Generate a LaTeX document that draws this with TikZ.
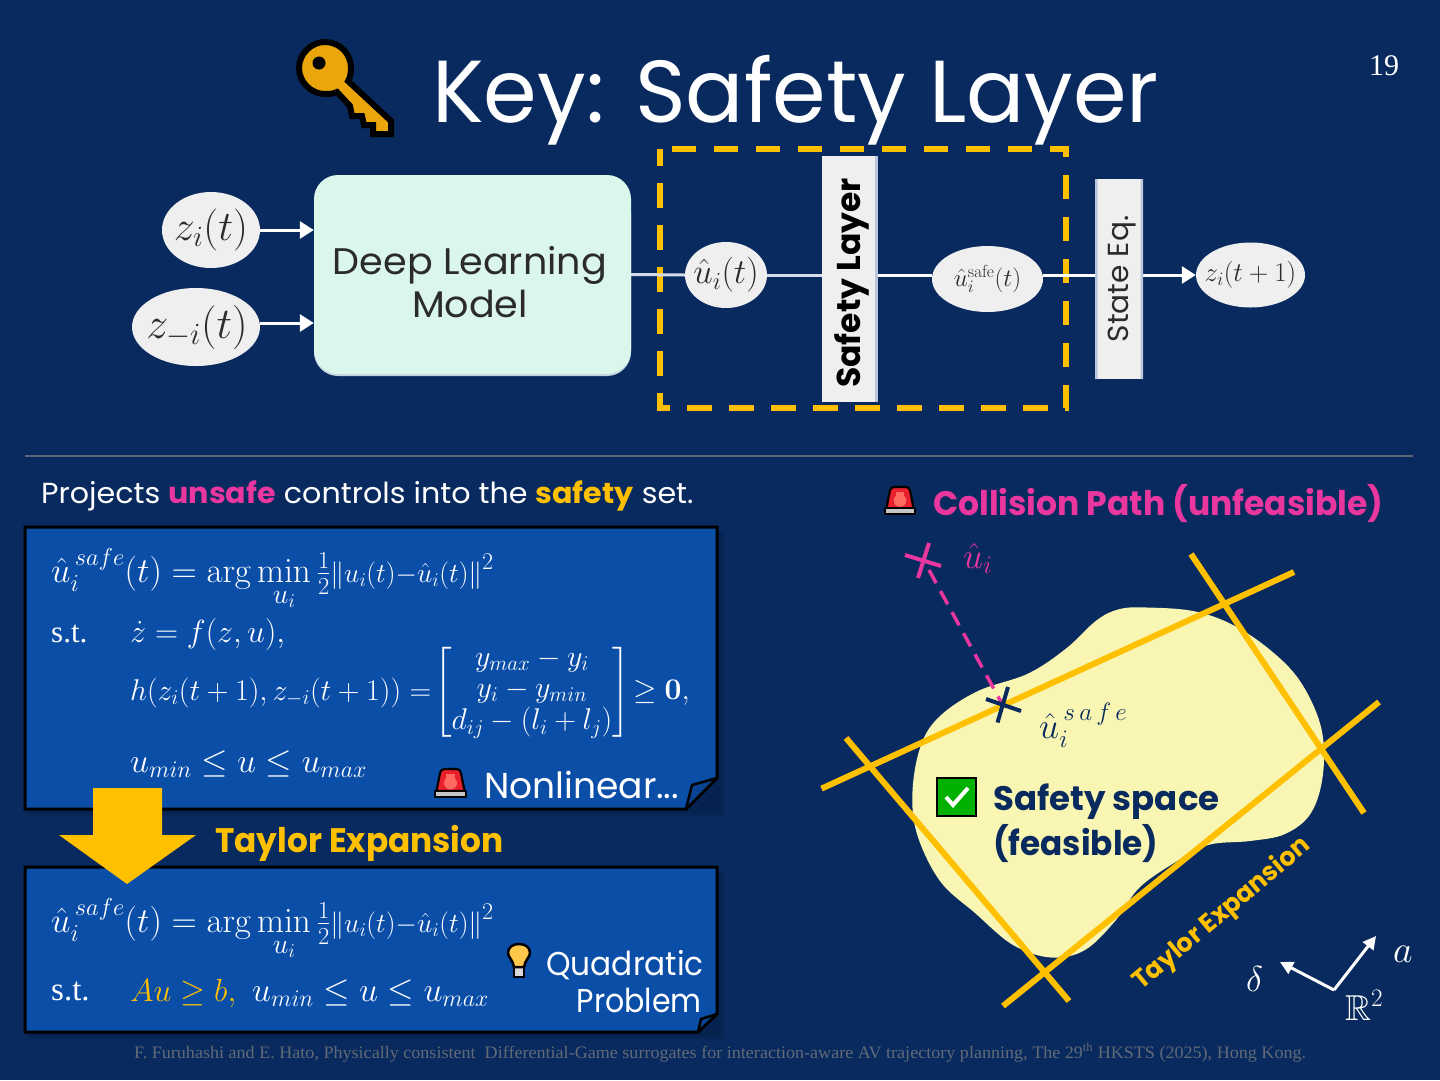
\RequirePackage{fix-cm}
\documentclass[tikz,border=0pt]{standalone}
\usepackage{amsmath,amssymb}
\usepackage[no-math]{fontspec}
\setmainfont{Poppins}
\newfontfamily\serifft{Liberation Serif}
\usetikzlibrary{arrows.meta,calc,shapes.geometric}
\definecolor{bgnavy}{HTML}{082A5E}
\definecolor{noteblue}{HTML}{0A4EA8}
\definecolor{gold}{HTML}{FFC000}
\definecolor{hotpink}{HTML}{E9379F}
\definecolor{paleyel}{HTML}{F9F5B2}
\definecolor{mint}{HTML}{DBF7EC}
\definecolor{edgeb}{HTML}{B9C5DA}
\definecolor{boxgrey}{HTML}{EFEFEF}
\definecolor{ink}{HTML}{2B2B2B}
\definecolor{keyor}{HTML}{EAA60A}
\definecolor{sirenred}{HTML}{E8202C}
\definecolor{sirenglow}{HTML}{FF6A60}
\definecolor{bulby}{HTML}{FFC84A}
\newcommand{\fsz}[1]{\fontsize{#1}{#1}\selectfont}
\newcommand{\xsc}[2]{\scalebox{#1}[1]{#2}}
\newcommand{\objline}{\hat u_i^{\,safe}(t)=\arg\min\limits_{\mbox{\fsz{28}$u_i$}}\tfrac12\mbox{\fsz{27.5}$\lVert u_i(t){-}\hat u_i(t)\rVert$}^{\mbox{\fsz{24}$2$}}}
\tikzset{
  ell/.style={ellipse,fill=boxgrey,draw=none,inner sep=0pt},
  elltxt/.style={inner sep=0pt,text=ink},
  flow/.style={white,line width=3pt},
  flowa/.style={white,line width=3pt,-{Triangle[length=14pt,width=17pt]}},
  bar/.style={fill=boxgrey,draw=none,inner sep=0pt,text=black},
  tx/.style={inner sep=0pt,anchor=base west,text=white},
  txr/.style={inner sep=0pt,anchor=base east,text=white},
  notebox/.style={fill=noteblue,draw=black,line width=3pt},
  fold/.style={fill=noteblue!70!bgnavy,draw=black,line width=2.5pt,line join=round},
  noteshadow/.style={fill=black,opacity=.08,draw=none},
  tanline/.style={gold,line width=6pt},
  mk/.style={line width=4pt},
  pics/siren/.style={code={
    \draw[black,line width=2.2pt,fill=sirenred,line join=round] (3.5,23) -- (7,5) .. controls (7.5,2) and (9,1) .. (12,1) -- (23,1) .. controls (26,1) and (27.5,2) .. (28,5) -- (31.5,23) -- cycle;
    \fill[sirenglow] (17.5,15) circle (6.5);
    \fill[sirenglow] (13,6) rectangle (22,12);
    \draw[black,line width=2.2pt,fill=gray!45,line join=round] (2,23) rectangle (33,29);
  }},
}
\begin{document}
\begin{tikzpicture}[x=1pt,y=-1pt,font=\fsz{20}]
\useasboundingbox (0,0) rectangle (1440,1080);
\fill[bgnavy] (0,0) rectangle (1440,1080);

% title
\node[tx] (title) at (432,122) {\fsz{88}\xsc{0.981}{Key: Safety Layer}};
\node[inner sep=0pt,text=white] (pageno) at (1384,66) {\serifft\fsz{30}19};
% key
\draw[black,line width=6pt,fill=keyor,line join=miter]
 (325,42) .. controls (340,42) and (351,54) .. (351,68) .. controls (351,73) and (350,78) .. (348,81)
 -- (391,121) -- (391,134) -- (373,134) -- (373,125) -- (364,125) -- (362,116) -- (352,116) -- (350,106) -- (337,92)
 .. controls (333,94) and (329,94) .. (325,94) .. controls (311,94) and (299,82) .. (299,68) .. controls (299,54) and (311,42) .. (325,42) -- cycle;
\fill[black] (319,63) circle (6.5);

% top diagram
\draw[gold,line width=6pt,dash pattern=on 24.5pt off 17.5pt,dash phase=8pt] (660,149) rectangle (1066,408);
\fill[edgeb!70!mint,rounded corners=24pt] (314,190) rectangle (631,376);
\node[fill=mint,rounded corners=24pt,minimum width=317pt,minimum height=199pt,inner sep=0pt] (dl) at (472.5,274.5) {};
\node[inner sep=0pt,text=ink,align=center] (dltxt) at (470,282) {\fsz{37}\xsc{1.03}{Deep Learning}\\[4pt]\fsz{37}\xsc{1.03}{Model}};
\node[ell,minimum width=98pt,minimum height=76pt] (zi) at (211,230) {};
\node[elltxt] (zit) at (211,230) {\fsz{42}$z_i(t)$};
\node[ell,minimum width=128pt,minimum height=78pt] (zmi) at (196,327) {};
\node[elltxt] (zmit) at (197,327) {\fsz{44}$z_{-i}(t)$};
\node[ell,minimum width=82pt,minimum height=66pt] (uh) at (726,275) {};
\node[elltxt] (uht) at (726,275) {\fsz{35}$\hat u_i(t)$};
\node[bar,minimum width=55pt,minimum height=246pt] (sl) at (849.5,279) {\hspace*{4pt}\rotatebox{90}{\fsz{33}\bfseries\xsc{1.0}{Safety Layer}\hspace*{8pt}}};
\fill[edgeb] (875,156) rectangle (877.5,402);
\node[ell,minimum width=111pt,minimum height=66pt] (us) at (987.5,279) {};
\node[elltxt] (ust) at (987.5,279) {\fsz{25}$\hat u_i^{\mathrm{safe}}(t)$};
\node[bar,minimum width=48pt,minimum height=200pt,text=ink] (se) at (1119,279) {\hspace*{6pt}\rotatebox{90}{\fsz{29}\xsc{1.02}{State Eq.}}};
\fill[edgeb] (1095,179) rectangle (1097.5,379) (1140.5,179) rectangle (1143,379);
\node[ell,minimum width=109pt,minimum height=65pt] (zn) at (1250.5,275) {};
\node[elltxt] (znt) at (1250.5,275) {\fsz{27}$z_i(t+1)$};
\draw[flowa] (zi.east) -- (zi.east -| dl.west);
\coordinate (zmo) at ($(zmi.east)+(0,-4)$);
\draw[flowa] (zmo) -- (zmo -| dl.west);
\draw[edgeb!60!white,line width=3pt] (dl.east) -- (uh.west);
\draw[edgeb!60!white,line width=3pt] (uh.east) -- (uh.east -| sl.west);
\coordinate (slr) at (877.5,275);
\coordinate (ser) at (1143,275);
\draw[flow] (slr) -- (slr -| us.west);
\draw[flow] (slr -| us.east) -- (slr -| se.west);
\draw[flowa] (ser) -- (ser -| zn.west);

% divider
\draw[gray!70!bgnavy,line width=2pt] (25,455.5) -- (1413,455.5);

% left heading
\node[tx] (proj) at (41,503) {\fsz{29}\xsc{1.04}{Projects {\bfseries\color{hotpink}unsafe} controls into the {\bfseries\color{gold}safety} set.}};

% note 1
\fill[noteshadow] (28,532) rectangle (724,816);
\fill[noteshadow] (26,530) rectangle (721,813);
\draw[notebox] (25,527) -- (717,527) -- (717,778) -- (686,809) -- (25,809) -- cycle;
\draw[fold] (717,778) -- (692,785) -- (686,809) -- cycle;
\node[tx] (m1) at (51,582) {\fsz{35}$\objline$};
\node[tx] (st1) at (51,642) {\serifft\fsz{31}s.t.};
\node[tx] (m2) at (130,642) {\fsz{32}$\dot z=f(z,u),$};
\node[tx] (m3) at (130,700) {\fsz{30}$h(z_i(t+1),z_{-i}(t+1))=$};
\node[tx,anchor=west] (m3b) at (434,692) {\fsz{30}$\left[\begin{matrix} y_{max}-y_i\\[1pt] y_i-y_{min}\\[1pt] d_{ij}-(l_i+l_j)\end{matrix}\right]\!\geq\mathbf{0},$};
\node[tx] (m4) at (130,772) {\fsz{34}$u_{min}\leq u\leq u_{max}$};
\pic[scale=1] (sir1) at (433,768) {siren};
\node[tx] (nl) at (484,798) {\fsz{36}\xsc{1.0}{Nonlinear...}};

% note 2
\fill[noteshadow] (28,872) rectangle (724,1039);
\fill[noteshadow] (26,870) rectangle (721,1036);
\draw[notebox] (25,867) -- (717,867) -- (717,1014) -- (698,1032) -- (25,1032) -- cycle;
\draw[fold] (717,1014) -- (701,1019) -- (698,1032) -- cycle;
\node[tx] (m5) at (51,932) {\fsz{35}$\objline$};
\node[tx] (st2) at (51,1000) {\serifft\fsz{33}s.t.};
\node[tx,text=gold] (m6) at (130,1001) {\fsz{32}$Au\geq b,$};
\node[tx] (m7) at (252,1001) {\fsz{34}$u_{min}\leq u\leq u_{max}$};
% bulb
\draw[black,line width=2pt,fill=gray!30] (514,966) rectangle (524,977);
\draw[black,line width=2.5pt,fill=bulby] (514,967) .. controls (513,960) and (508,957) .. (508,953) .. controls (508,947) and (513,944) .. (519,944) .. controls (525,944) and (530,947) .. (530,953) .. controls (530,957) and (525,960) .. (524,967) -- cycle;
\node[txr] (qd) at (704,975) {\fsz{33}\xsc{0.946}{Quadratic}};
\node[txr] (pb) at (702,1012) {\fsz{33}\xsc{0.91}{Problem}};

% arrow between notes
\fill[gold] (93,788) -- (162,788) -- (162,835) -- (196,835) -- (127,884) -- (59,835) -- (93,835) -- cycle;
\node[tx,text=gold] (te) at (215,852) {\fsz{34}\bfseries\xsc{0.964}{Taylor Expansion}};

% footer
\node[tx,text=gray!75!bgnavy] (foot) at (134,1058) {\serifft\fsz{17.5}\xsc{1.033}{F. Furuhashi and E. Hato, Physically consistent\ \ Differential-Game surrogates for interaction-aware AV trajectory planning, The 29\textsuperscript{th} HKSTS (2025), Hong Kong.}};

% right panel
\pic[scale=.97] (sir2) at (883,486) {siren};
\node[tx,text=hotpink] (cp) at (933,515) {\fsz{34}\bfseries\xsc{0.97}{Collision Path (unfeasible)}};
\fill[paleyel] plot[smooth cycle,tension=.6] coordinates {
 (1147,607.5) (1193,611) (1231,624) (1269,649) (1300,681) (1321,727) (1323,774) (1311,813) (1285,834) (1250,841)
 (1208,845) (1174,863) (1139,888) (1116,920) (1085,950) (1051,957.5) (1013,945) (975,913) (940,881) (917,834)
 (912.5,791) (921,745) (940,716) (978,691) (1028,673.6) (1066,648.6) (1097,620) (1120,609)};
\draw[tanline] (821.5,788.6) -- (1294,572);
\draw[tanline] (846,738) -- (1069,1001);
\draw[tanline] (1003,1006) -- (1379,702);
\draw[tanline] (1191,554) -- (1364,813);
\draw[hotpink,line width=3.5pt,dash pattern=on 15pt off 9pt] (929,570) -- (1001,702);
\draw[hotpink,mk] (905,555) -- (941,566) (929,543) -- (918,578);
\draw[bgnavy,mk] (986,699) -- (1021,711) (1008,687) -- (997.5,722.5);
\node[tx,text=hotpink] (ulab) at (963,568) {\fsz{36}$\hat u_i$};
\node[tx,text=bgnavy] (slab) at (1039,738) {\fsz{36}$\hat u_i^{\,s\,a\,f\,e}$};
\draw[black,line width=2pt,fill=green!70!black] (937,778) rectangle (976,816);
\draw[white,line width=4pt] (946,797) -- (953,805) -- (968,788);
\node[tx,text=bgnavy] (ss1) at (993,810) {\fsz{34}\bfseries\xsc{1.0}{Safety space}};
\node[tx,text=bgnavy] (ss2) at (993,855) {\fsz{34}\bfseries\xsc{0.962}{(feasible)}};
\node[inner sep=0pt,text=gold,rotate=40] (tz) at (1222,914) {\fsz{26}\bfseries\xsc{0.97}{Taylor Expansion}};
\coordinate (orig) at (1334,990);
\coordinate (aend) at (1376,936);
\coordinate (dend) at (1280,962);
\draw[white,line width=3pt,-{Triangle[length=13pt,width=13pt]}] (orig) -- (aend);
\draw[white,line width=3pt,-{Triangle[length=13pt,width=13pt]}] (orig) -- (dend);
\node[tx] (alab) at (1393,962) {\fsz{38}$a$};
\node[tx] (dlab) at (1246,991) {\fsz{36}$\delta$};
\node[tx] (rlab) at (1345,1020) {\fsz{36}$\mathbb{R}^2$};
\end{tikzpicture}
\end{document}
